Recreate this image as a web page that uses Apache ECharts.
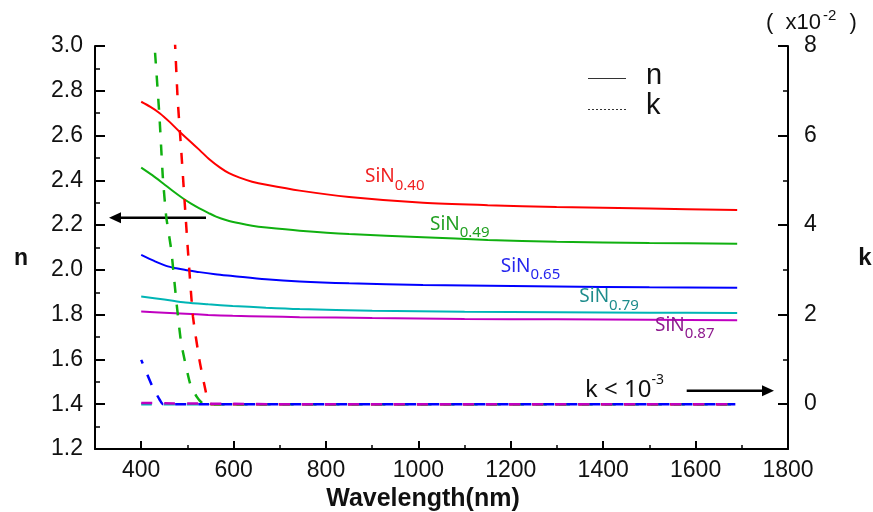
<!DOCTYPE html>
<html><head><meta charset="utf-8">
<script src="https://cdn.jsdelivr.net/npm/echarts@6/dist/echarts.min.js"></script>
<style>html,body{margin:0;padding:0;background:#fff}#c{width:873px;height:512px}</style>
</head><body><div id="c"></div>
<script>
// ---- data (wavelength nm, value) ----
const nRed     = [[400,2.751],[420,2.728],[440,2.700],[462,2.660],[483,2.617],[505,2.576],[526,2.536],[548,2.493],[570,2.458],[590,2.432],[613,2.412],[640,2.394],[671,2.380],[743,2.354],[850,2.326],[1010,2.300],[1150,2.289],[1299,2.281],[1500,2.274],[1690,2.268]];
const nGreen   = [[400,2.457],[424,2.423],[447,2.387],[470,2.350],[490,2.320],[508,2.296],[526,2.275],[545,2.255],[562,2.238],[585,2.222],[613,2.208],[640,2.197],[671,2.189],[743,2.175],[850,2.160],[1010,2.146],[1150,2.134],[1299,2.126],[1500,2.120],[1690,2.117]];
const nBlue    = [[400,2.067],[428,2.040],[454,2.018],[476,2.007],[496,2.000],[526,1.990],[560,1.981],[598,1.973],[670,1.958],[743,1.948],[850,1.940],[1010,1.933],[1299,1.926],[1500,1.922],[1690,1.920]];
const nCyan    = [[400,1.881],[450,1.868],[496,1.854],[545,1.846],[598,1.839],[670,1.831],[743,1.825],[900,1.818],[1100,1.813],[1299,1.811],[1500,1.809],[1690,1.808]];
const nMagenta = [[400,1.814],[450,1.809],[496,1.804],[545,1.799],[598,1.795],[670,1.792],[743,1.789],[900,1.785],[1100,1.781],[1299,1.779],[1500,1.777],[1690,1.775]];

const kRed     = [[468,9.2],[473.5,8.0],[479,6.8],[486.5,5.69],[493.7,4.57],[501,3.45],[512,1.96],[526,0.99],[542,0.17],[546,0.05],[552,0],[1686,0]];
const kGreen   = [[430,7.85],[439.5,6.43],[446.7,5.09],[454,4.2],[465,3.45],[475.7,2.34],[486.5,1.37],[505.6,0.47],[520,0.17],[534,0.01],[560,0],[1690,0]];
const kBlue    = [[400,0.99],[424,0.40],[440,0.10],[447,0],[1686,0]];
const kCyan    = [[400,0],[1686,0]];
const kMagenta = [[400,0.03],[450,0.02],[600,0.01],[700,0],[1686,0]];

const nTickRange = [1.2, 3.0, 0.2];
const kTickRange = [0, 8, 2];
const xTickRange = [400, 1800, 200];
const labels = ['SiN', '0.40', '0.49', '0.65', '0.79', '0.87'];

const C = {red:'#ff0000', green:'#10b010', blue:'#0000ff', cyan:'#00b5b5', magenta:'#c000c0'};
const chart = echarts.init(document.getElementById('c'));
const AX = '#000';
const tickFont = {fontSize:23, color:'#111', fontFamily:'Liberation Sans, Arial, sans-serif'};

function nSeries(data, color){
  return {type:'line', data, xAxisIndex:0, yAxisIndex:0, showSymbol:false, symbol:'none', smooth:0.3,
    lineStyle:{color, width:2}, z:3};
}
function kSeries(data, color, off, z){
  return {type:'line', data, xAxisIndex:0, yAxisIndex:1, showSymbol:false, symbol:'none', smooth:0.15,
    lineStyle:{color, width:2.5, type:[11,12], dashOffset:off||0}, z:z||4};
}
function sinLabel(sub, x, top, color){
  return {type:'text', x, y:top, z:20, style:{
    text:'{a|' + labels[0] + '}{b|'+sub+'}', align:'left', verticalAlign:'top',
    rich:{a:{fontSize:19, lineHeight:22, verticalAlign:'top', fill:color, color:color, fontFamily:'Noto Sans, sans-serif'},
          b:{fontSize:15, lineHeight:15, verticalAlign:'top', padding:[11,0,0,0], fill:color, color:color, fontFamily:'Noto Sans, sans-serif'}}
  }};
}

const option = {
  animation:false,
  backgroundColor:'#fff',
  grid:[
    {left:95, top:46, width:693, height:403},
    {left:141.2, top:46, width:646.8, height:403},
    {left:95, top:46, width:693, height:358}
  ],
  xAxis:[
    {gridIndex:0, type:'value', min:300, max:1800, interval:100,
     axisLine:{show:true, onZero:false, lineStyle:{color:AX, width:2}}, axisTick:{show:false}, axisLabel:{show:false}, splitLine:{show:false}},
    {gridIndex:1, type:'value', min:xTickRange[0], max:xTickRange[1], interval:xTickRange[2],
     axisLine:{show:false, onZero:false}, axisTick:{show:true, inside:true, length:8, lineStyle:{color:AX, width:2}},
     minorTick:{show:true, splitNumber:2, length:4, lineStyle:{color:AX, width:1.5}},
     axisLabel:Object.assign({margin:10, formatter:v=>String(v)}, tickFont), splitLine:{show:false}},
    {gridIndex:2, type:'value', min:300, max:1800, show:false}
  ],
  yAxis:[
    {gridIndex:0, type:'value', min:nTickRange[0], max:nTickRange[1], interval:nTickRange[2], position:'left',
     axisLine:{show:true, onZero:false, lineStyle:{color:AX, width:2}},
     axisTick:{show:true, inside:true, length:10, lineStyle:{color:AX, width:2}},
     minorTick:{show:true, splitNumber:2, length:5, lineStyle:{color:AX, width:1.5}},
     axisLabel:Object.assign({margin:12, formatter:v=>v.toFixed(1)}, tickFont), splitLine:{show:false}},
    {gridIndex:0, type:'value', min:-1, max:8, position:'right',
     axisLine:{show:true, onZero:false, lineStyle:{color:AX, width:2}}, axisTick:{show:false}, axisLabel:{show:false}, splitLine:{show:false}},
    {gridIndex:1, type:'value', show:false, min:0, max:1},
    {gridIndex:2, type:'value', min:kTickRange[0], max:kTickRange[1], interval:kTickRange[2], position:'right',
     axisLine:{show:false, onZero:false},
     axisTick:{show:true, inside:true, length:10, lineStyle:{color:AX, width:2}},
     minorTick:{show:true, splitNumber:2, length:5, lineStyle:{color:AX, width:1.5}},
     axisLabel:Object.assign({margin:16}, tickFont), splitLine:{show:false}}
  ],
  series:[
    nSeries(nRed, C.red), nSeries(nGreen, C.green), nSeries(nBlue, C.blue), nSeries(nCyan, C.cyan), nSeries(nMagenta, C.magenta),
    kSeries(kCyan, C.cyan, 0, 4), kSeries(kRed, C.red, 0, 4), kSeries(kGreen, C.green, 0, 4),
    kSeries(kBlue, C.blue, 7, 5), kSeries(kMagenta, C.magenta, 0, 6)
  ],
  graphic:[
    {type:'text', x:21, y:259, style:{text:'n', fontSize:23, fontWeight:'bold', fill:'#111', fontFamily:'Liberation Sans, Arial', align:'center', verticalAlign:'middle'}},
    {type:'text', x:865, y:258, style:{text:'k', fontSize:24, fontWeight:'bold', fill:'#111', fontFamily:'Liberation Sans, Arial', align:'center', verticalAlign:'middle'}},
    {type:'text', x:423, y:499, style:{text:'Wavelength(nm)', fontSize:25, fontWeight:'bold', fill:'#111', fontFamily:'Liberation Sans, Arial', align:'center', verticalAlign:'middle'}},
    {type:'text', x:766, y:8, style:{text:'{m|(  x10}{s|-2}{m|  )}', align:'left', verticalAlign:'top',
      rich:{m:{fontSize:22, lineHeight:26, verticalAlign:'bottom', fill:'#111', fontFamily:'Liberation Sans, Arial'},
            s:{fontSize:15, lineHeight:26, verticalAlign:'top', fill:'#111', fontFamily:'Liberation Sans, Arial', padding:[0,1,0,2]}}}},
    // legend
    {type:'line', shape:{x1:588, y1:78.5, x2:626, y2:78.5}, style:{stroke:'#333', lineWidth:1}},
    {type:'line', shape:{x1:588, y1:109.5, x2:626, y2:109.5}, style:{stroke:'#333', lineWidth:1, lineDash:[2,2]}},
    {type:'text', x:646, y:76, style:{text:'n', fontSize:29, fill:'#111', fontFamily:'Liberation Sans, Arial', align:'left', verticalAlign:'middle'}},
    {type:'text', x:646, y:106, style:{text:'k', fontSize:29, fill:'#111', fontFamily:'Liberation Sans, Arial', align:'left', verticalAlign:'middle'}},
    // curve labels
    sinLabel(labels[1], 365, 167.5, '#f02020'),
    sinLabel(labels[2], 430, 214.7, '#22a022'),
    sinLabel(labels[3], 500.7, 256.7, '#2525ee'),
    sinLabel(labels[4], 579.3, 287.4, '#1e8c8c'),
    sinLabel(labels[5], 655, 315.7, '#8e1a8e'),
    // k < 10^-3
    {type:'text', x:585, y:373, style:{text:'{m|k < 10}{s|-3}', align:'left', verticalAlign:'top',
      rich:{m:{fontSize:24, lineHeight:29, verticalAlign:'bottom', fill:'#111', fontFamily:'Noto Sans, sans-serif'},
            s:{fontSize:14, lineHeight:29, verticalAlign:'top', fill:'#111', fontFamily:'Noto Sans, sans-serif'}}}},
    // arrows
    {type:'line', shape:{x1:206, y1:217.7, x2:118, y2:217.7}, style:{stroke:'#000', lineWidth:2.5}},
    {type:'polygon', shape:{points:[[109,217.7],[121,212.2],[121,223.2]]}, style:{fill:'#000'}},
    {type:'line', shape:{x1:686.7, y1:390.7, x2:765, y2:390.7}, style:{stroke:'#000', lineWidth:2.5}},
    {type:'polygon', shape:{points:[[774,390.7],[762,385.2],[762,396.2]]}, style:{fill:'#000'}}
  ]
};
chart.setOption(option);
</script></body></html>
